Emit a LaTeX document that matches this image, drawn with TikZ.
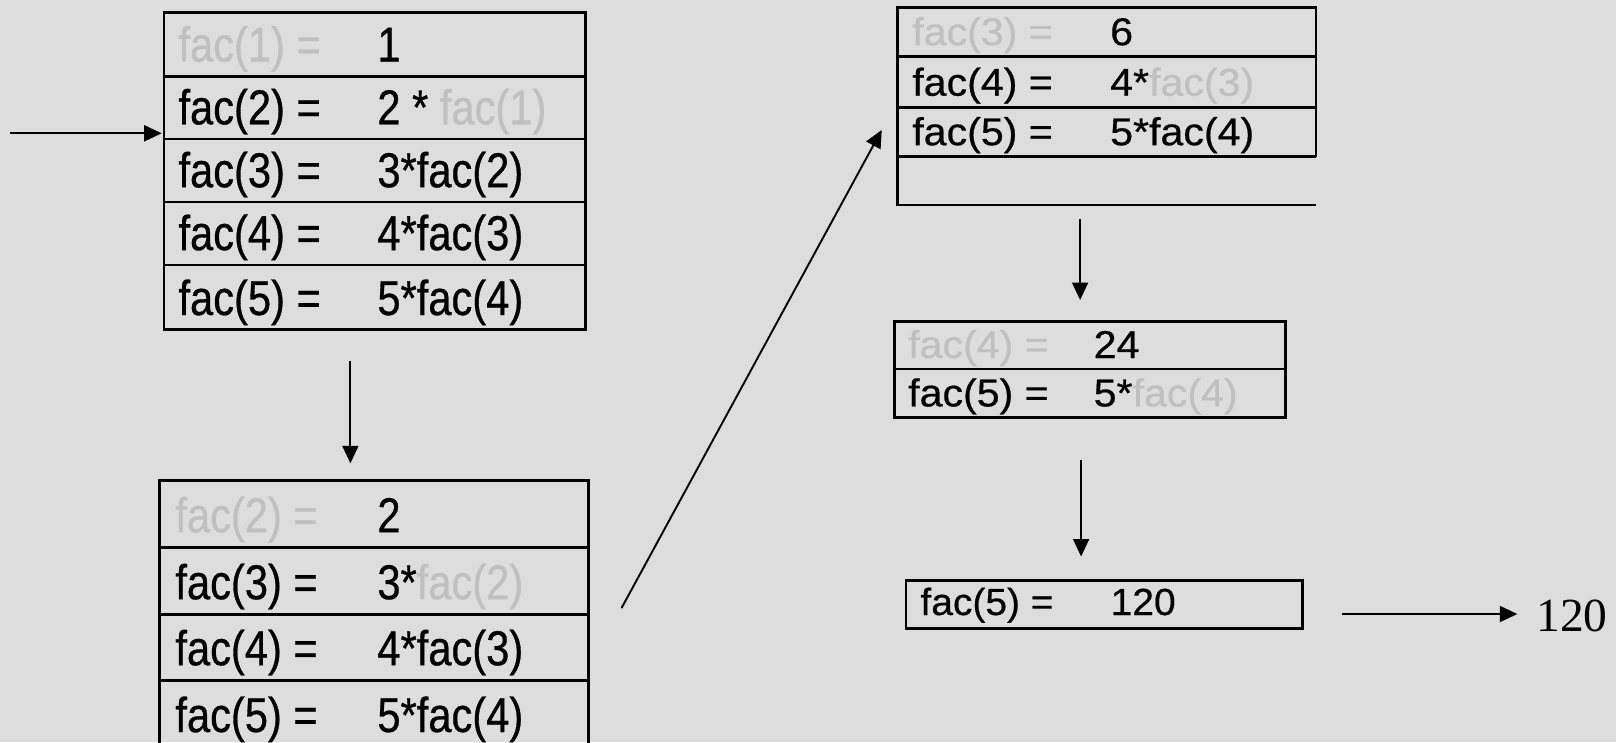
\documentclass[tikz,border=0pt]{standalone}
\usepackage{fontspec}
\setmainfont{Liberation Sans}
\newfontfamily\narrowsans{Liberation Sans}[FakeStretch=0.85,FakeBold=0.6]
\newfontfamily\widesans{Liberation Sans}[FakeStretch=1.06,FakeBold=0.5]
\newfontfamily\midsans{Liberation Sans}[FakeStretch=1.03,FakeBold=0.5]
\newfontfamily\timesfont{Liberation Serif}
\usetikzlibrary{arrows.meta}
\definecolor{bgcol}{RGB}{221,221,221}
\definecolor{fade}{RGB}{192,192,192}
\tikzset{
  boxline/.style={draw=black, line width=2.7pt},
  bigtxt/.style={anchor=base west, inner sep=0pt, font=\narrowsans\fontsize{49}{52}\selectfont},
  midtxt/.style={anchor=base west, inner sep=0pt, font=\widesans\fontsize{38.8}{42}\selectfont},
  smtxt/.style={anchor=base west, inner sep=0pt, font=\midsans\fontsize{37.8}{41}\selectfont},
  arr/.style={-{Triangle[length=17.5pt,width=16pt]}, line width=1.9pt},
}
\begin{document}
\begin{tikzpicture}[x=1pt,y=-1pt]
\fill[bgcol] (0,0) rectangle (1616,742);
\useasboundingbox (0,0) rectangle (1616,742);

% ---------- Box 1 ----------
\draw[boxline] (163.9,12.4) rectangle (585.4,329.8);
\foreach \yy in {76.3,139.1,202.0,264.9} \draw[boxline] (163.9,\yy) -- (585.4,\yy);
\node[bigtxt] (b1l1) at (178.3,61.5) {\textcolor{fade}{fac(1) =}};
\node[bigtxt] (b1r1) at (377.2,61.5) {1};
\node[bigtxt] (b1l2) at (178.3,124.3) {fac(2) =};
\node[bigtxt] (b1r2) at (377.2,124.3) {2 * \textcolor{fade}{fac(1)}};
\node[bigtxt] (b1l3) at (178.3,187.2) {fac(3) =};
\node[bigtxt] (b1r3) at (377.2,187.2) {3*fac(2)};
\node[bigtxt] (b1l4) at (178.3,250.1) {fac(4) =};
\node[bigtxt] (b1r4) at (377.2,250.1) {4*fac(3)};
\node[bigtxt] (b1l5) at (178.3,315.0) {fac(5) =};
\node[bigtxt] (b1r5) at (377.2,315.0) {5*fac(4)};

% incoming arrow
\coordinate (in0) at (10.3,133.3);
\coordinate (in1) at (161.7,133.3);
\draw[arr] (in0) -- (in1);

% arrow down to box 2
\coordinate (d1s) at (350.4,360.7);
\coordinate (d1e) at (350.4,463.3);
\draw[arr] (d1s) -- (d1e);

% ---------- Box 2 ----------
\draw[boxline] (159.7,745) -- (159.7,480.3) -- (588.5,480.3) -- (588.5,745);
\foreach \yy in {547.2,614.2,680.2} \draw[boxline] (159.7,\yy) -- (588.5,\yy);
\node[bigtxt] (b2l1) at (175.2,532.2) {\textcolor{fade}{fac(2) =}};
\node[bigtxt] (b2r1) at (377.2,532.2) {2};
\node[bigtxt] (b2l2) at (175.2,599.2) {fac(3) =};
\node[bigtxt] (b2r2) at (377.2,599.2) {3*\textcolor{fade}{fac(2)}};
\node[bigtxt] (b2l3) at (175.2,665.2) {fac(4) =};
\node[bigtxt] (b2r3) at (377.2,665.2) {4*fac(3)};
\node[bigtxt] (b2l4) at (175.2,732.0) {fac(5) =};
\node[bigtxt] (b2r4) at (377.2,732.0) {5*fac(4)};

% diagonal arrow to box 3
\coordinate (g0) at (621.5,608.1);
\coordinate (g1) at (881.7,130.0);
\draw[arr] (g0) -- (g1);

% ---------- Box 3 ----------
\draw[boxline] (1316.1,156.7) -- (1316.1,7.2) -- (897.7,7.2) -- (897.7,205.1) -- (1316.1,205.1);
\foreach \yy in {56.7,107.2,156.7} \draw[boxline] (897.7,\yy) -- (1316.1,\yy);
\node[midtxt] (b3l1) at (912.1,45.2) {\textcolor{fade}{fac(3) =}};
\node[midtxt] (b3r1) at (1110.0,45.2) {6};
\node[midtxt] (b3l2) at (912.1,95.7) {fac(4) =};
\node[midtxt] (b3r2) at (1110.0,95.7) {4*\textcolor{fade}{fac(3)}};
\node[midtxt] (b3l3) at (912.1,145.2) {fac(5) =};
\node[midtxt] (b3r3) at (1110.0,145.2) {5*fac(4)};

% arrow down to box 4
\coordinate (d2s) at (1080.1,218.5);
\coordinate (d2e) at (1080.1,300.0);
\draw[arr] (d2s) -- (d2e);

% ---------- Box 4 ----------
\draw[boxline] (894.6,321.5) rectangle (1285.2,417.4);
\draw[boxline] (894.6,369.0) -- (1285.2,369.0);
\node[midtxt] (b4l1) at (908.0,358.0) {\textcolor{fade}{fac(4) =}};
\node[midtxt] (b4r1) at (1093.5,358.0) {24};
\node[midtxt] (b4l2) at (908.0,406.4) {fac(5) =};
\node[midtxt] (b4r2) at (1093.5,406.4) {5*\textcolor{fade}{fac(4)}};

% arrow down to box 5
\coordinate (d3s) at (1081.1,459.6);
\coordinate (d3e) at (1081.1,556.5);
\draw[arr] (d3s) -- (d3e);

% ---------- Box 5 ----------
\draw[boxline] (905.9,580.2) rectangle (1302.7,628.7);
\node[smtxt] (b5l1) at (920.3,615.0) {fac(5) =};
\node[smtxt] (b5r1) at (1110.5,615.0) {120};

% result arrow
\coordinate (r0) at (1341.8,614.0);
\node[anchor=base west, inner sep=0pt, font=\timesfont\fontsize{47.5}{50}\selectfont] (res) at (1536.2,631.0) {120};
\coordinate (r1) at (1517.3,614.0);
\draw[arr] (r0) -- (r1);
\end{tikzpicture}
\end{document}
